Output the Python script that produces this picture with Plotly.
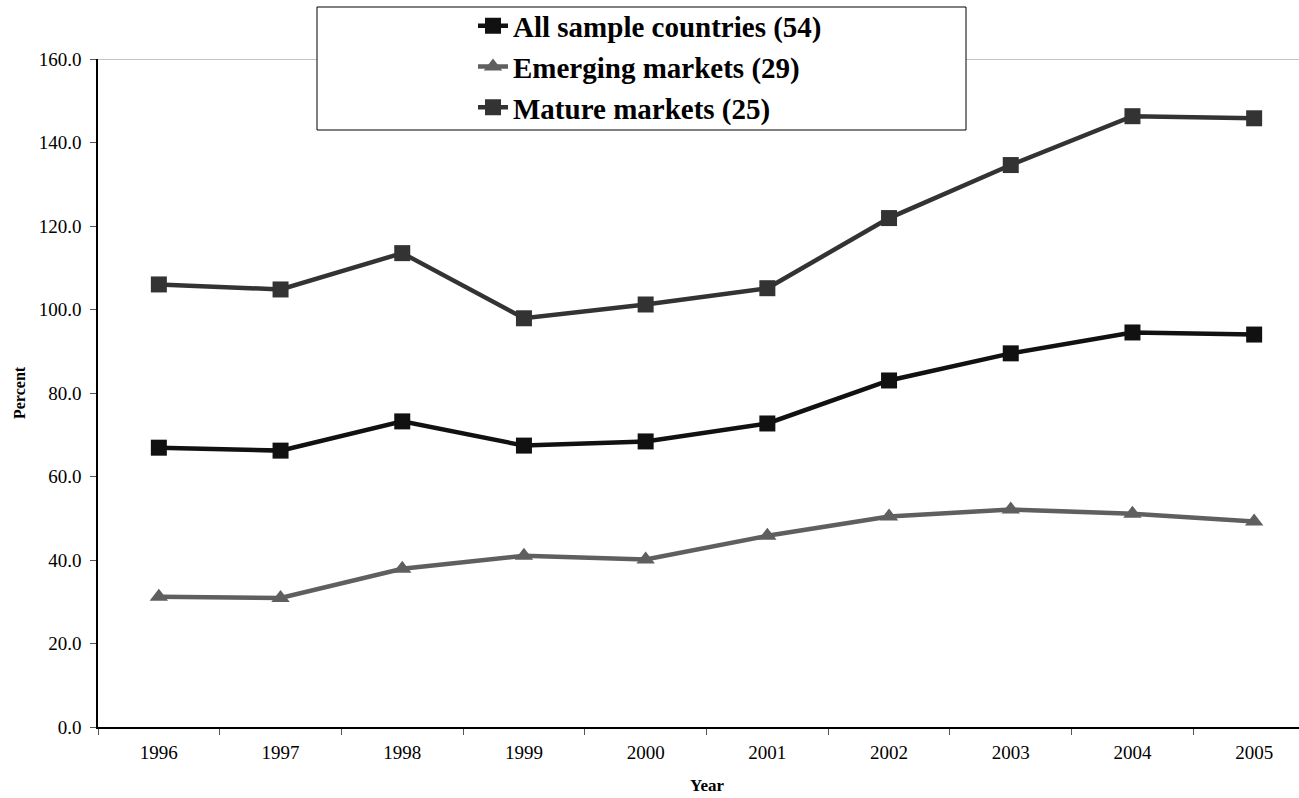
import plotly.graph_objects as go

years = ["1996", "1997", "1998", "1999", "2000", "2001", "2002", "2003", "2004", "2005"]
all_sample = [66.9, 66.2, 73.2, 67.4, 68.4, 72.7, 83.0, 89.5, 94.5, 94.0]
emerging = [31.2, 30.9, 37.9, 41.0, 40.1, 45.8, 50.4, 52.1, 51.1, 49.2]
mature = [106.0, 104.8, 113.5, 97.9, 101.2, 105.1, 121.9, 134.6, 146.3, 145.8]

serif = "Liberation Serif, Times New Roman, serif"

fig = go.Figure()
fig.add_trace(go.Scatter(
    x=years, y=all_sample, name="All sample countries (54)", mode="lines+markers",
    line=dict(color="#111111", width=4.5),
    marker=dict(symbol="square", size=16, color="#111111")))
fig.add_trace(go.Scatter(
    x=years, y=emerging, name="Emerging markets (29)", mode="lines+markers",
    line=dict(color="#5f5f5f", width=4.5),
    marker=dict(symbol="triangle-up", size=16, color="#5f5f5f")))
fig.add_trace(go.Scatter(
    x=years, y=mature, name="Mature markets (25)", mode="lines+markers",
    line=dict(color="#333333", width=4.5),
    marker=dict(symbol="square", size=16, color="#333333")))

# top reference line at 160 and the legend frame
fig.add_shape(type="line", xref="paper", yref="y", x0=0, x1=1, y0=160, y1=160,
              line=dict(color="#8c8c8c", width=1), layer="below")
fig.add_shape(type="rect", xref="paper", yref="paper",
              x0=(317 - 98) / 1201, x1=(966 - 98) / 1201,
              y0=(727 - 130) / 668, y1=(727 - 7) / 668,
              line=dict(color="#000000", width=1), fillcolor="white", layer="above")

# axis titles
fig.add_annotation(text="<b>Year</b>", xref="paper", yref="paper",
                   x=(707 - 98) / 1201, y=(727 - 785) / 668,
                   showarrow=False, xanchor="center", yanchor="middle",
                   font=dict(family=serif, size=17, color="#000000"))
fig.add_annotation(text="<b>Percent</b>", xref="paper", yref="paper",
                   x=(19 - 98) / 1201, y=0.5, textangle=-90,
                   showarrow=False, xanchor="center", yanchor="middle",
                   font=dict(family=serif, size=16, color="#000000"))

fig.update_layout(
    width=1299, height=798,
    margin=dict(l=98, r=0, t=59, b=71, autoexpand=False),
    plot_bgcolor="white", paper_bgcolor="white",
    font=dict(family=serif, color="#000000"),
    showlegend=True,
    legend=dict(
        xref="container", yref="container", x=473 / 1299, y=1 - 0.5 / 798,
        xanchor="left", yanchor="top", tracegroupgap=0,
        bgcolor="rgba(0,0,0,0)", borderwidth=0,
        font=dict(family=serif, size=29, color="#000000", weight="bold"),
    ),
    xaxis=dict(
        type="category", showgrid=False, showline=True, linecolor="#000000", linewidth=1.5,
        ticks="outside", tickson="boundaries", ticklen=6, tickcolor="#555555",
        ticklabelstandoff=7,
        tickfont=dict(family=serif, size=19), range=[-0.5, 9.5 - 16 / 121.7],
    ),
    yaxis=dict(
        range=[0, 160], tickvals=[0, 20, 40, 60, 80, 100, 120, 140, 160],
        tickformat=".1f", showgrid=False, zeroline=False,
        showline=True, linecolor="#000000", linewidth=1.5,
        ticks="outside", ticklen=6, tickcolor="#555555",
        ticklabelstandoff=5,
        tickfont=dict(family=serif, size=19),
    ),
)

fig.write_html("out.html")
